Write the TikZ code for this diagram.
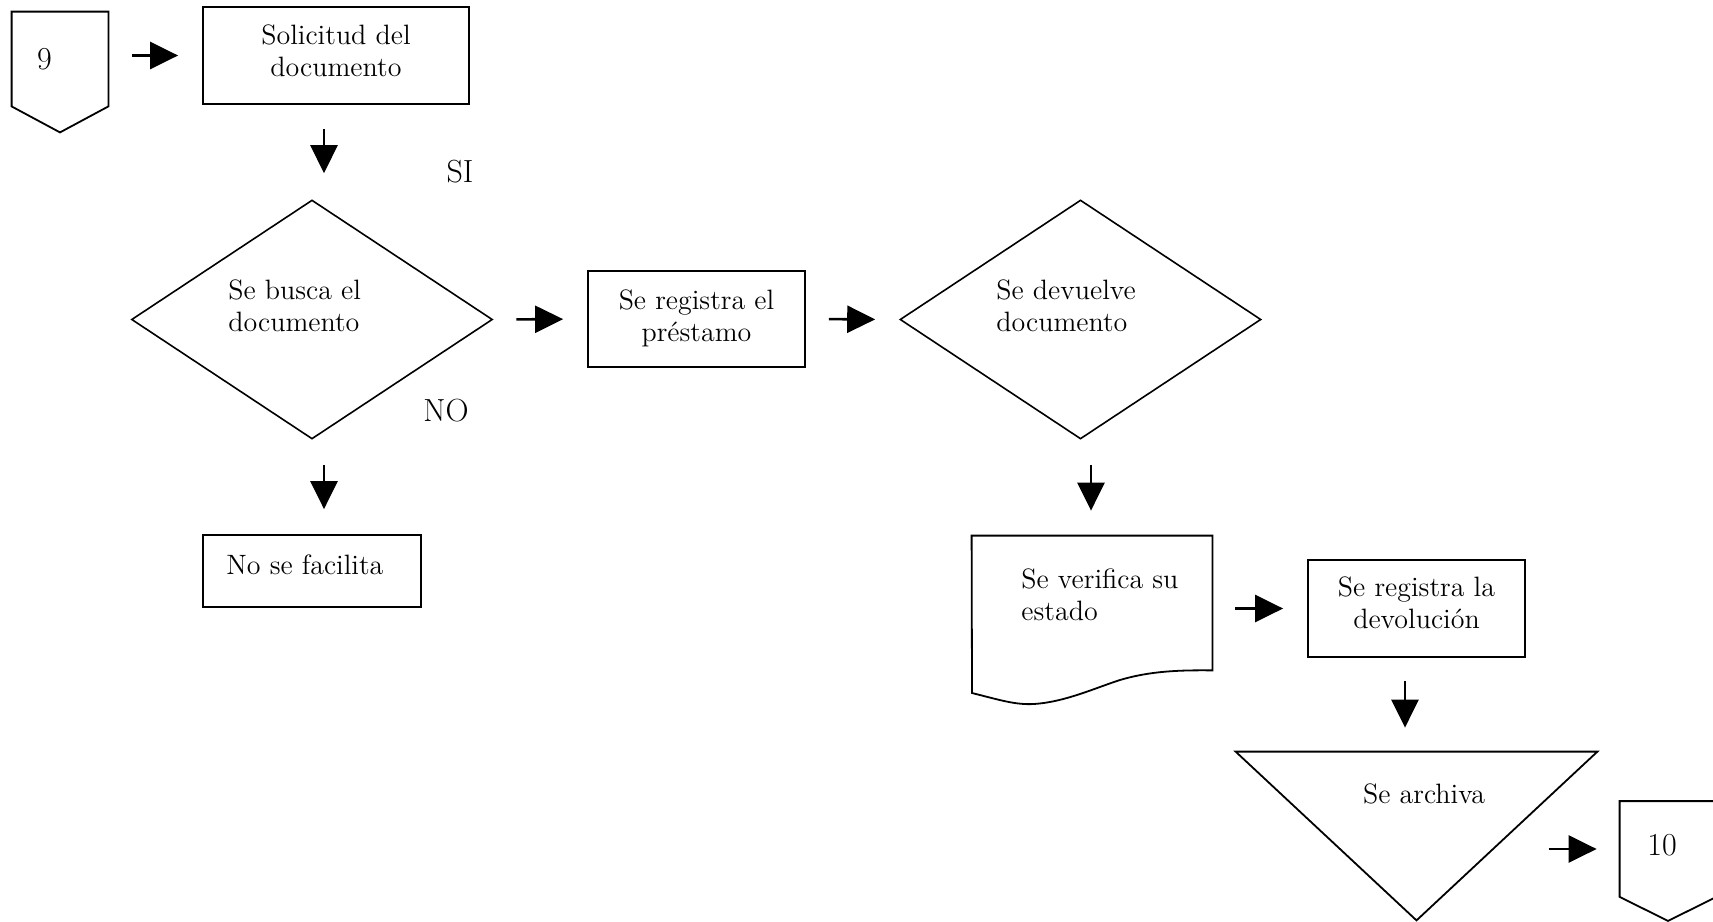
\documentclass[tikz,border=0pt]{standalone}
\usetikzlibrary{shapes.geometric,arrows.meta}
\begin{document}
\begin{tikzpicture}[x=0.5pt,y=-0.5pt,
  outline/.style={draw=black,line width=0.9pt,line join=miter},
  frame/.style={rectangle,inner sep=0pt},
  boxnode/.style={rectangle,draw=black,line width=0.9pt,inner sep=0pt},
  decision/.style={diamond,draw=black,line width=0.8pt,inner sep=0pt,
    minimum width=180.5pt,minimum height=119.5pt},
  body/.style={font=\fontsize{14}{16}\selectfont,inner sep=0pt},
  big/.style={font=\fontsize{16}{19}\selectfont,inner sep=0pt},
  flow/.style={line width=1.3pt,-{Triangle[length=14pt,width=13.5pt]}},
]
\useasboundingbox (0,0) rectangle (1713,921);

% off-page connector 9
\node[frame,minimum width=48pt,minimum height=47pt] (c9) at (60,59) {};
\draw[outline] (c9.north west) -- (c9.north east) -- (c9.south east)
  -- ([yshift=-13pt]c9.south) -- (c9.south west) -- cycle;
\node[big] (c9t) at (44.5,59) {9};

% process boxes
\node[boxnode,minimum width=133pt,minimum height=48.5pt] (sol) at (336,55.5) {};
\node[body,align=center] (solt) at (336,50.5) {Solicitud del\\documento};
\node[boxnode,minimum width=108.5pt,minimum height=48pt] (reg1) at (696.5,319) {};
\node[body,align=center] (reg1t) at (696.5,318) {Se registra el\\préstamo};
\node[boxnode,minimum width=108.5pt,minimum height=48.5pt] (reg2) at (1416.5,608.5) {};
\node[body,align=center] (reg2t) at (1416.5,603) {Se registra la\\devolución};
\node[boxnode,minimum width=109pt,minimum height=36pt] (nofac) at (312,571) {};
\node[body,anchor=west] (nofact) at (226,565) {No se facilita};

% decisions
\node[decision] (d1) at (312,319.5) {};
\node[body,align=left,anchor=west] (d1t) at (228,305.5) {Se busca el\\documento};
\node[decision] (d2) at (1080.5,319.5) {};
\node[body,align=left,anchor=west] (d2t) at (996,305.5) {Se devuelve\\documento};

\node[big] (si) at (460,172) {SI};
\node[big] (no) at (446,411) {NO};

% document shape
\node[frame,minimum width=120pt,minimum height=67pt] (doc) at (1092,603) {};
\draw[outline] (972,693) -- (doc.north west) -- (doc.north east) -- (doc.south east)
  .. controls (1180,670) and (1150,671) .. (1120,680)
  .. controls (1095,688) and (1065,702) .. (1034,704)
  .. controls (1015,705) and (1000,700) .. (972,693) -- cycle;
\node[body,align=left,anchor=west] (doct) at (1021,595) {Se verifica su\\estado};

% archive (inverted triangle)
\node[frame,minimum width=180.5pt,minimum height=84pt] (arch) at (1416.5,836) {};
\draw[outline] (arch.north west) -- (arch.north east) -- (arch.south) -- cycle;
\node[body] (archt) at (1424,794) {Se archiva};

% off-page connector 10
\node[frame,minimum width=48pt,minimum height=47.5pt] (c10) at (1668,849) {};
\draw[outline] (c10.north west) -- (c10.north east) -- (c10.south east)
  -- ([yshift=-12pt]c10.south) -- (c10.south west) -- cycle;
\node[big] (c10t) at (1662,845) {10};

% flow arrows
\draw[flow,shorten <=12pt,shorten >=12pt] (c9.east |- sol.west) -- (sol.west);
\draw[flow,shorten <=12pt,shorten >=13pt] ([xshift=-6pt]sol.south) -- ([xshift=6pt]d1.north);
\draw[flow,shorten <=11.5pt,shorten >=12pt] (d1.east) -- (reg1.west);
\draw[flow,shorten <=11.5pt,shorten >=12pt] (reg1.east) -- (d2.west);
\draw[flow,shorten <=12.5pt,shorten >=12.5pt] ([xshift=6pt]d1.south) -- ([xshift=6pt]nofac.north);
\draw[flow,shorten <=12.5pt,shorten >=12.5pt] ([xshift=5.25pt]d2.south) -- ([xshift=5.25pt]d2.south |- doc.north);
\draw[flow,shorten <=11.5pt,shorten >=12pt] (reg2.west -| doc.east) -- (reg2.west);
\draw[flow,shorten <=11.5pt,shorten >=12pt] ([xshift=-5.75pt]reg2.south) -- ([xshift=-5.75pt]arch.north);
\draw[flow,shorten <=66pt,shorten >=11.5pt] (c10.west -| arch.south) -- (c10.west);
\end{tikzpicture}
\end{document}
